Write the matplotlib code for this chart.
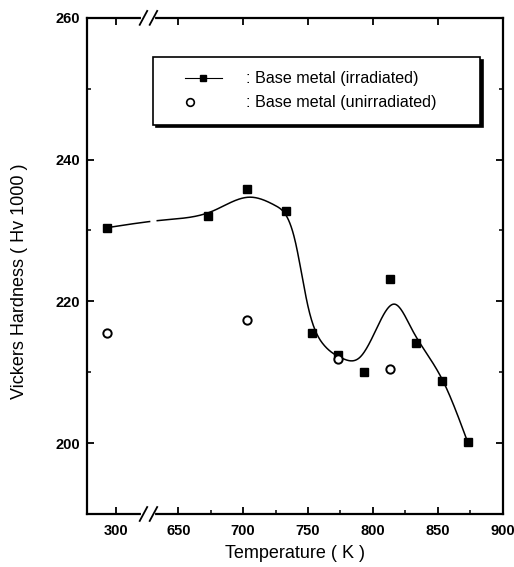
import numpy as np
import matplotlib.pyplot as plt
from matplotlib.lines import Line2D
from matplotlib.legend_handler import HandlerLine2D
from matplotlib.ticker import FixedLocator, MultipleLocator

plt.rcParams['font.family'] = ['Liberation Sans', 'DejaVu Sans']

# irradiated / unirradiated hardness, room temperature point sits left of the break
T_irr = [293, 673, 703, 733, 753, 773, 793, 813, 833, 853, 873]
hv_irr = [230.4, 232.1, 235.8, 232.8, 215.5, 212.4, 210.0, 223.2, 214.1, 208.8, 200.2]
T_unirr = [293, 703, 773, 813]
hv_unirr = [215.5, 217.3, 211.8, 210.4]

# guide curve through the irradiated data (knots)
curve_T = [293, 640, 676, 705, 725, 740, 750, 762, 776, 790, 803, 817, 830, 854, 873]
curve_hv = [230.4, 231.5, 232.7, 234.7, 233.5, 228.6, 219.3, 213.9, 212.0, 212.1,
            216.2, 219.6, 216.1, 208.8, 200.2]

xtick_vals = [300, 650, 700, 750, 800, 850, 900]
ytick_vals = [200, 220, 240, 260]

# axis break: 300 K is drawn where 602 K would be on the main scale
shift = 602.2 - 300
brk = 627.0


def pos(T):
    T = np.asarray(T, dtype=float)
    return np.where(T < 400, T + shift, T)


def natural_spline(x, y, xs):
    x = np.asarray(x, float)
    y = np.asarray(y, float)
    n = len(x)
    h = np.diff(x)
    A = np.zeros((n, n))
    r = np.zeros(n)
    A[0, 0] = A[-1, -1] = 1
    for i in range(1, n - 1):
        A[i, i - 1] = h[i - 1]
        A[i, i] = 2 * (h[i - 1] + h[i])
        A[i, i + 1] = h[i]
        r[i] = 6 * ((y[i + 1] - y[i]) / h[i] - (y[i] - y[i - 1]) / h[i - 1])
    M = np.linalg.solve(A, r)
    i = np.clip(np.searchsorted(x, xs) - 1, 0, n - 2)
    hi = h[i]
    a = x[i + 1] - xs
    b = xs - x[i]
    return (M[i] * a**3 / (6 * hi) + M[i + 1] * b**3 / (6 * hi)
            + (y[i] / hi - M[i] * hi / 6) * a + (y[i + 1] / hi - M[i + 1] * hi / 6) * b)


fig = plt.figure(figsize=(5.14, 5.67), dpi=100)
ax = fig.add_axes([0.1687, 0.0935, 0.809, 0.875])

kx = pos(curve_T)
cx = np.linspace(kx[0], kx[-1], 800)
cy = natural_spline(kx, curve_hv, cx)
cy = np.where((cx > brk + 1) & (cx < brk + 6.5), np.nan, cy)
ax.plot(cx, cy, color='black', lw=1.1)

ax.plot(pos(T_irr), hv_irr, ls='none', marker='s', ms=6, color='black')
ax.plot(pos(T_unirr), hv_unirr, ls='none', marker='o', ms=6,
        mfc='white', mec='black', mew=1.4)

ax.set_xlim(579.4, 900)
ax.set_ylim(190, 260)
ax.xaxis.set_major_locator(FixedLocator(pos(xtick_vals)))
ax.set_xticklabels([str(v) for v in xtick_vals])
ax.xaxis.set_minor_locator(FixedLocator([675, 725, 775, 825, 875]))
ax.set_yticks(ytick_vals)
ax.yaxis.set_minor_locator(MultipleLocator(10))

for s in ax.spines.values():
    s.set_linewidth(1.6)
ax.tick_params(which='major', direction='in', length=5, width=1.3, labelsize=10.5)
ax.tick_params(which='minor', direction='in', length=3, width=1.1)
ax.tick_params(axis='x', which='major', pad=7, top=True)
ax.tick_params(axis='y', which='both', pad=4.5, right=True)
for lab in ax.get_xticklabels() + ax.get_yticklabels():
    lab.set_fontweight('bold')

ax.set_xlabel('Temperature ( K )', fontsize=13, labelpad=5)
ax.set_ylabel('Vickers Hardness ( Hv 1000 )', fontsize=13)
ax.yaxis.set_label_coords(-0.14, 0.47)

# break marks on bottom and top spines
bx = (brk - 579.4) / (900 - 579.4)
for yb in (0, 1):
    ax.plot([bx - 0.012, bx + 0.012], [yb, yb], color='white', lw=3,
            transform=ax.transAxes, clip_on=False, zorder=5)
    for dx in (-0.012, 0.012):
        ax.plot([bx + dx - 0.009, bx + dx + 0.009], [yb - 0.014, yb + 0.014],
                color='black', lw=1.3, transform=ax.transAxes,
                clip_on=False, zorder=6)

h_irr = Line2D([], [], color='black', lw=0.8, marker='s', ms=5)
h_unirr = Line2D([], [], ls='none', marker='o', ms=5.5, mfc='white',
                 mec='black', mew=1.2)
labels = [': Base metal (irradiated)', ': Base metal (unirradiated)']
leg = ax.legend([h_irr, h_unirr], labels, loc='upper left',
                bbox_to_anchor=(0.159, 0.784, 0.787, 0.137), mode='expand',
                fontsize=11.6, frameon=True, fancybox=False, borderpad=0.89,
                labelspacing=0.55, handlelength=3.4, handletextpad=1.5,
                borderaxespad=0, shadow={'color': 'black', 'alpha': 1},
                handler_map={h_irr: HandlerLine2D(xpad=1.1),
                             h_unirr: HandlerLine2D(xpad=-0.58)})
leg.get_frame().set_edgecolor('black')
leg.get_frame().set_linewidth(1.2)

fig.savefig('out.png', dpi=100)
